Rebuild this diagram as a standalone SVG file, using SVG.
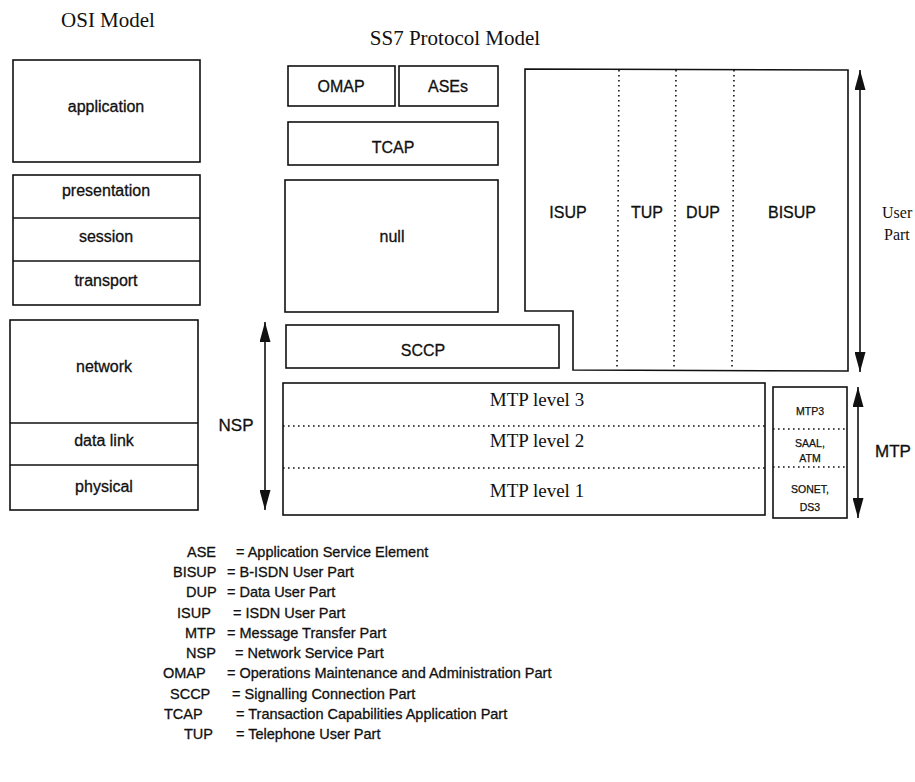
<svg xmlns="http://www.w3.org/2000/svg" width="915" height="782" viewBox="0 0 915 782">
<style>
.box{fill:none;stroke:#111;stroke-width:1.6}
.dot{fill:none;stroke:#111;stroke-width:1.6;stroke-dasharray:1.6 3.4}
.ln{fill:none;stroke:#111;stroke-width:1.6}
.title{font-family:"Liberation Serif",serif;font-size:21px;fill:#111}
.lbl{font-family:"Liberation Sans",sans-serif;font-size:16px;fill:#111;text-anchor:middle;stroke:#111;stroke-width:0.3}
.ser{font-family:"Liberation Serif",serif;font-size:19px;fill:#111;text-anchor:middle}
.sm{font-family:"Liberation Sans",sans-serif;font-size:10.5px;fill:#111;text-anchor:middle;stroke:#111;stroke-width:0.25}
.leg{font-family:"Liberation Sans",sans-serif;font-size:14.5px;fill:#111;stroke:#111;stroke-width:0.3}
</style>
<defs>
<marker id="ah" viewBox="0 0 20 11" refX="20" refY="5.5" markerWidth="20" markerHeight="11" markerUnits="userSpaceOnUse" orient="auto-start-reverse">
<path d="M0,0 L20,5.5 L0,11 z" fill="#111"/>
</marker>
</defs>
<text class="title" x="108" y="27" text-anchor="middle">OSI Model</text>
<text class="title" x="455" y="45" text-anchor="middle">SS7 Protocol Model</text>

<g id="osi-application">
<rect class="box" x="13" y="60" width="187" height="102"/>
<text class="lbl" x="106" y="112">application</text>
</g>
<g id="osi-upper">
<rect class="box" x="13" y="175" width="187" height="130"/>
<line class="ln" x1="13" y1="218" x2="200" y2="218"/>
<line class="ln" x1="13" y1="261" x2="200" y2="261"/>
<text class="lbl" x="106" y="196">presentation</text>
<text class="lbl" x="106" y="242">session</text>
<text class="lbl" x="106" y="286">transport</text>
</g>
<g id="osi-lower">
<rect class="box" x="10" y="320" width="188" height="190"/>
<line class="ln" x1="10" y1="423" x2="198" y2="423"/>
<line class="ln" x1="10" y1="465" x2="198" y2="465"/>
<text class="lbl" x="104" y="372">network</text>
<text class="lbl" x="104" y="446">data link</text>
<text class="lbl" x="104" y="492">physical</text>
</g>

<g id="omap"><rect class="box" x="288" y="66" width="107" height="40"/><text class="lbl" x="341" y="92">OMAP</text></g>
<g id="ases"><rect class="box" x="399" y="66" width="99" height="40"/><text class="lbl" x="448" y="92">ASEs</text></g>
<g id="tcap"><rect class="box" x="288" y="122" width="210" height="43"/><text class="lbl" x="393" y="153">TCAP</text></g>
<g id="null"><rect class="box" x="285" y="180" width="213" height="132"/><text class="lbl" x="392" y="242">null</text></g>
<g id="sccp"><rect class="box" x="286" y="325" width="273" height="43"/><text class="lbl" x="423" y="356">SCCP</text></g>

<g id="user-part">
<path class="box" d="M525,69 L848,70 L848,371 L573,370 L573,311 L525,311 Z"/>
<line class="dot" x1="619" y1="70" x2="617" y2="370"/>
<line class="dot" x1="676" y1="70" x2="674" y2="370"/>
<line class="dot" x1="734" y1="70" x2="732" y2="370"/>
<text class="lbl" x="568" y="218">ISUP</text>
<text class="lbl" x="647" y="218">TUP</text>
<text class="lbl" x="703" y="218">DUP</text>
<text class="lbl" x="792" y="218">BISUP</text>
</g>

<g id="mtp">
<rect class="box" x="283" y="383" width="482" height="132"/>
<line class="dot" x1="283" y1="426" x2="765" y2="426"/>
<line class="dot" x1="283" y1="468" x2="765" y2="468"/>
<text class="ser" x="537" y="406">MTP level 3</text>
<text class="ser" x="537" y="447">MTP level 2</text>
<text class="ser" x="537" y="497">MTP level 1</text>
</g>
<g id="bisup-mtp">
<rect class="box" x="773" y="387" width="74" height="131"/>
<line class="dot" x1="773" y1="429" x2="847" y2="429"/>
<line class="dot" x1="773" y1="467" x2="847" y2="467"/>
<text class="sm" x="810" y="415">MTP3</text>
<text class="sm" x="810" y="447">SAAL,</text>
<text class="sm" x="810" y="462">ATM</text>
<text class="sm" x="810" y="493">SONET,</text>
<text class="sm" x="810" y="511">DS3</text>
</g>

<g id="connectors">
<line class="ln" x1="265" y1="322" x2="265" y2="510" marker-start="url(#ah)" marker-end="url(#ah)"/>
<line class="ln" x1="860" y1="70" x2="860" y2="372" marker-start="url(#ah)" marker-end="url(#ah)"/>
<line class="ln" x1="858" y1="387" x2="858" y2="518" marker-start="url(#ah)" marker-end="url(#ah)"/>
</g>
<text class="lbl" x="236" y="431" style="font-size:17px">NSP</text>
<text x="882" y="218" style="font-family:'Liberation Serif',serif;font-size:16px;fill:#111">User</text>
<text x="884" y="240" style="font-family:'Liberation Serif',serif;font-size:16px;fill:#111">Part</text>
<text class="lbl" x="893" y="457" style="font-size:17px">MTP</text>

<g id="legend">
<text class="leg" x="187" y="557">ASE</text><text class="leg" x="236" y="557">= Application Service Element</text>
<text class="leg" x="173" y="577">BISUP</text><text class="leg" x="227" y="577">= B-ISDN User Part</text>
<text class="leg" x="186" y="597">DUP</text><text class="leg" x="227" y="597">= Data User Part</text>
<text class="leg" x="177" y="618">ISUP</text><text class="leg" x="233" y="618">= ISDN User Part</text>
<text class="leg" x="185" y="638">MTP</text><text class="leg" x="227" y="638">= Message Transfer Part</text>
<text class="leg" x="186" y="658">NSP</text><text class="leg" x="235" y="658">= Network Service Part</text>
<text class="leg" x="163" y="678">OMAP</text><text class="leg" x="227" y="678">= Operations Maintenance and Administration Part</text>
<text class="leg" x="170" y="699">SCCP</text><text class="leg" x="232" y="699">= Signalling Connection Part</text>
<text class="leg" x="164" y="719">TCAP</text><text class="leg" x="236" y="719">= Transaction Capabilities Application Part</text>
<text class="leg" x="184" y="739">TUP</text><text class="leg" x="236" y="739">= Telephone User Part</text>
</g>
</svg>
